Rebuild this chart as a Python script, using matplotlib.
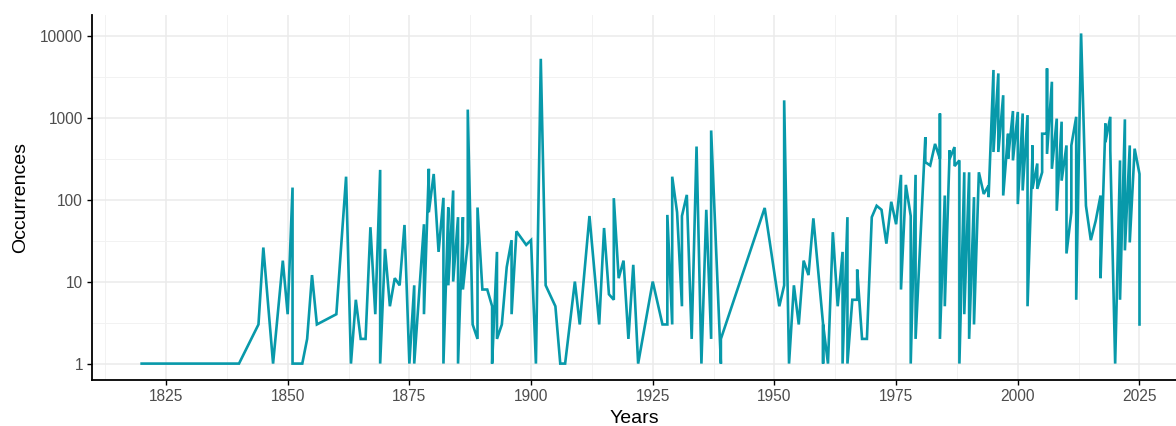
import numpy as np
import matplotlib.pyplot as plt
from matplotlib.ticker import FixedLocator, NullFormatter

plt.rcParams['font.family'] = ['Liberation Sans', 'DejaVu Sans']

# yearly counts (some years appear twice, the line runs through both)
years = [1820, 1840, 1844, 1845, 1847, 1849, 1850, 1851, 1851, 1853,
         1854, 1855, 1856, 1860, 1862, 1863, 1864, 1865, 1866, 1867,
         1868, 1869, 1869, 1870, 1871, 1872, 1873, 1874, 1875, 1876,
         1876, 1878, 1878, 1879, 1879, 1880, 1881, 1882, 1882, 1883,
         1883, 1884, 1884, 1885, 1885, 1886, 1886, 1887, 1887, 1888,
         1889, 1889, 1890, 1891, 1892, 1892, 1893, 1893, 1894, 1895,
         1896, 1896, 1897, 1899, 1900, 1901, 1902, 1903, 1905, 1906,
         1907, 1909, 1910, 1912, 1914, 1915, 1916, 1917, 1917, 1918,
         1919, 1920, 1921, 1922, 1925, 1927, 1928, 1928, 1929, 1929,
         1930, 1931, 1931, 1932, 1933, 1934, 1935, 1936, 1937, 1937,
         1939, 1939, 1948, 1951, 1952, 1952, 1953, 1954, 1955, 1956,
         1957, 1958, 1960, 1960, 1960, 1961, 1962, 1963, 1964, 1964,
         1965, 1965, 1966, 1967, 1967, 1968, 1969, 1970, 1971, 1972,
         1973, 1974, 1975, 1976, 1976, 1977, 1978, 1978, 1979, 1979,
         1981, 1981, 1982, 1983, 1984, 1984, 1984, 1985, 1985, 1986,
         1986, 1987, 1987, 1988, 1988, 1989, 1989, 1990, 1990, 1991,
         1991, 1992, 1993, 1994, 1994, 1995, 1995, 1996, 1996, 1997,
         1997, 1998, 1998, 1999, 1999, 2000, 2000, 2001, 2001, 2002,
         2002, 2003, 2003, 2003, 2004, 2004, 2005, 2005, 2006, 2006,
         2006, 2007, 2007, 2008, 2008, 2009, 2009, 2010, 2010, 2011,
         2011, 2012, 2012, 2013, 2014, 2015, 2016, 2017, 2017, 2018,
         2018, 2019, 2019, 2020, 2021, 2021, 2022, 2022, 2023, 2023,
         2024, 2025, 2025]
occurrences = [1, 1, 3, 26, 1, 18, 4, 140, 1, 1,
               2, 12, 3, 4, 190, 1, 6, 2, 2, 46,
               4, 230, 1, 25, 5, 11, 9, 49, 1, 9,
               1, 50, 4, 237, 70, 205, 23, 105, 1, 80,
               9, 129, 10, 61, 1, 61, 8, 30, 1250, 3,
               2, 80, 8, 8, 5, 1, 23, 2, 3, 15,
               32, 4, 41, 28, 32, 1, 5200, 9, 5, 1,
               1, 10, 3, 63, 3, 45, 7, 6, 104, 11,
               18, 2, 16, 1, 10, 3, 3, 65, 3, 190,
               70, 5, 63, 114, 2, 443, 1, 75, 2, 695,
               1, 2, 79, 5, 9, 1620, 1, 9, 3, 18,
               12, 59, 3, 1, 3, 1, 40, 5, 23, 1,
               61, 1, 6, 6, 14, 2, 2, 61, 84, 75,
               29, 94, 50, 200, 8, 151, 63, 1, 200, 2,
               577, 286, 260, 477, 314, 1120, 2, 112, 5, 398,
               314, 436, 256, 300, 1, 215, 4, 215, 2, 107,
               3, 215, 117, 148, 107, 3800, 380, 3450, 380, 1870,
               112, 635, 313, 1200, 300, 1170, 88, 1120, 129, 1070,
               5, 345, 457, 135, 275, 135, 215, 635, 635, 3970,
               360, 2730, 237, 970, 73, 890, 170, 457, 22, 70,
               457, 1020, 6, 10600, 84, 32, 55, 112, 11, 845,
               500, 1020, 398, 1, 300, 6, 950, 24, 457, 30,
               417, 205, 3]

x_ticks = [1825, 1850, 1875, 1900, 1925, 1950, 1975, 2000, 2025]
y_ticks = [1, 10, 100, 1000, 10000]
y_labels = ['1', '10', '100', '1000', '10000']

fig = plt.figure(figsize=(11.76, 4.26), dpi=100)
ax = fig.add_axes([92 / 1176, 1 - 380 / 426, 1 - 92 / 1176, 365 / 426])

ax.plot(years, occurrences, color='#0899AA', lw=1.9, solid_joinstyle='miter', zorder=3)

ax.set_yscale('log')
ax.set_xlim(1809.8, 2032.5)
ax.set_ylim(10 ** -0.2, 10 ** 4.25)

ax.xaxis.set_major_locator(FixedLocator(x_ticks))
ax.xaxis.set_minor_locator(FixedLocator([t - 12.5 for t in x_ticks] + [2037.5]))
ax.yaxis.set_major_locator(FixedLocator(y_ticks))
ax.yaxis.set_minor_locator(FixedLocator([10 ** (k + 0.5) for k in range(-1, 5)]))
ax.set_yticklabels(y_labels)
ax.yaxis.set_minor_formatter(NullFormatter())

ax.grid(which='major', color='#EBEBEB', lw=1.1)
ax.grid(which='minor', color='#F2F2F2', lw=0.7)
ax.set_axisbelow(True)

for s in ['top', 'right']:
    ax.spines[s].set_visible(False)
for s in ['left', 'bottom']:
    ax.spines[s].set_color('black')
    ax.spines[s].set_linewidth(1.3)

ax.tick_params(which='major', length=3.5, width=1.0, color='black',
               labelsize=11.2, labelcolor='#4D4D4D', pad=3)
ax.tick_params(which='minor', length=0)

ax.set_xlabel('Years', fontsize=14, labelpad=4)
ax.set_ylabel('Occurrences', fontsize=14, labelpad=8)

fig.savefig('out.png', dpi=100)
